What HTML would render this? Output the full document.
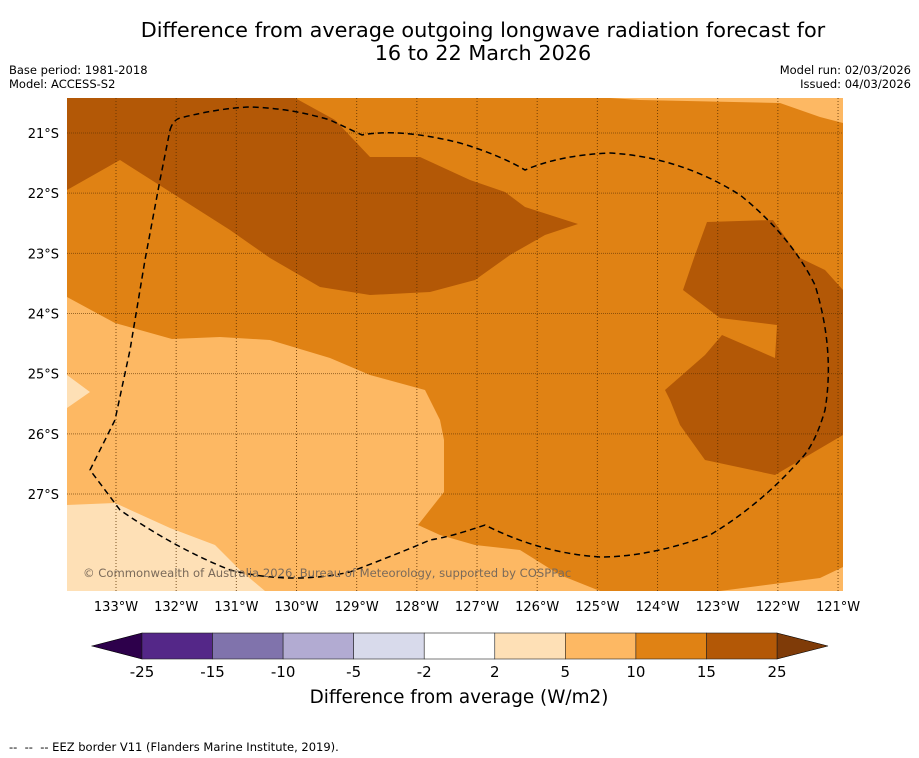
<!DOCTYPE html>
<html><head><meta charset="utf-8"><style>
body{margin:0;background:#fff;font-family:"DejaVu Sans","Liberation Sans",sans-serif;}
#wrap{position:relative;width:919px;height:758px;overflow:hidden;}
.t{position:absolute;white-space:nowrap;color:#000;}
</style></head><body>
<div id="wrap">
<div class="t" style="left:0;width:966px;top:19px;text-align:center;font-size:20.8px;line-height:23px;">Difference from average outgoing longwave radiation forecast for<br>16 to 22 March 2026</div>
<div class="t" style="left:9px;top:63px;font-size:11.5px;line-height:14px;">Base period: 1981-2018<br>Model: ACCESS-S2</div>
<div class="t" style="right:8px;top:63px;font-size:11.5px;line-height:14px;text-align:right;">Model run: 02/03/2026<br>Issued: 04/03/2026</div>
<svg id="svg" width="919" height="758" style="position:absolute;left:0;top:0"></svg>
<div class="t" style="left:9px;top:740px;font-size:11.5px;">--&nbsp; --&nbsp; -- EEZ border V11 (Flanders Marine Institute, 2019).</div>
</div>
<script>
const lonTicks=[133,132,131,130,129,128,127,126,125,124,123,122,121];
const latTicks=[21,22,23,24,25,26,27];
const levels=[-25,-15,-10,-5,-2,2,5,10,15,25];
const levelColors=["#542788","#8073ac","#b2abd2","#d8daeb","#ffffff","#fee0b6","#fdb863","#e08214","#b35806"];
const NS="http://www.w3.org/2000/svg";
const svg=document.getElementById('svg');
function el(t,a,p){const e=document.createElementNS(NS,t);for(const k in a)e.setAttribute(k,a[k]);(p||svg).appendChild(e);return e;}
const X=lon=>116+(133-lon)*60.17, Y=lat=>133+(lat-21)*60.17;
const L=67,R=843,T=98,B=591;
const clip=el('clipPath',{id:'mc'});el('rect',{x:L,y:T,width:R-L,height:B-T},clip);
const g=el('g',{'clip-path':'url(#mc)'});
let e=el('rect',{x:L,y:T,width:R-L,height:B-T,fill:'#e08214'},g);

const polys=[
["dark-anomaly-north","#b35806","67,98 295,98 335,120 370,157 420,157 470,180 505,192 525,207 578,224 545,235 510,255 475,280 430,292 370,295 320,287 270,258 230,230 175,195 120,160 67,190"],
["light-anomaly-ne","#fdb863","610,98 843,98 843,123 820,117 780,103 640,100"],
["dark-anomaly-east","#b35806","707,222 773,220 800,258 825,270 843,290 843,435 775,475 705,460 680,425 670,400 665,390 705,355 722,335 775,358 777,325 720,318 683,290 695,255"],
["light-anomaly-sw","#fdb863","67,297 115,323 172,339 220,337 270,340 330,358 370,375 425,390 440,420 444,440 444,492 418,525 440,535 475,545 520,550 560,575 600,591 67,591"],
["light-anomaly-se","#fdb863","720,591 820,578 843,567 843,591"],
["pale-anomaly-sw","#fee0b6","67,505 115,503 170,528 215,545 240,570 265,591 67,591"],
["pale-anomaly-w","#fee0b6","67,375 90,392 67,408"]];
polys.forEach(p=>{const q=el('polygon',{points:p[2],fill:p[1]},g);});
lonTicks.forEach(v=>{const l=el('line',{x1:X(v),x2:X(v),y1:T,y2:B,stroke:'#5a3000','stroke-width':1,'stroke-dasharray':'1,2','stroke-opacity':0.8},g);
const t=el('text',{x:X(v),y:611,'font-size':13,'text-anchor':'middle'});t.textContent=v+'°W';});
latTicks.forEach(v=>{const l=el('line',{x1:L,x2:R,y1:Y(v),y2:Y(v),stroke:'#5a3000','stroke-width':1,'stroke-dasharray':'1,1','stroke-opacity':0.6},g);
const t=el('text',{x:59,y:Y(v)+5,'font-size':13,'text-anchor':'end'});t.textContent=v+'°S';});
e=el('path',{d:'M170,130 Q173,120 180,118 Q220,108 250,107 Q290,108 330,120 L362,135 Q400,128 460,143 Q500,155 525,170 Q560,155 610,153 Q680,157 740,195 Q790,235 815,285 Q835,350 825,410 Q815,445 800,460 Q760,505 710,535 Q650,557 600,557 Q540,553 485,525 Q450,537 430,540 Q400,553 350,572 Q290,585 230,570 Q175,548 120,510 L90,470 L115,420 L130,350 L145,260 L160,180 Z',fill:'none',stroke:'#000','stroke-width':1.5,'stroke-dasharray':'6,4'},g);

e=el('text',{x:83,y:577,'font-size':11.6,fill:'#7a6a5a'},g);e.textContent='© Commonwealth of Australia 2026, Bureau of Meteorology, supported by COSPPac';

const cbL=142,cbR=777,cbT=633,cbB=659,n=levelColors.length,w=(cbR-cbL)/n;
e=el('polygon',{points:`${cbL},${cbT} 92,646 ${cbL},${cbB}`,fill:'#2d004b',stroke:'#000','stroke-width':0.6});
e=el('polygon',{points:`${cbR},${cbT} 828,646 ${cbR},${cbB}`,fill:'#7f3b08',stroke:'#000','stroke-width':0.6});
levelColors.forEach((c,i)=>{const r=el('rect',{x:cbL+i*w,y:cbT,width:w,height:cbB-cbT,fill:c,stroke:'#222','stroke-width':0.6});});
levels.forEach((v,i)=>{const t=el('text',{x:cbL+i*w,y:677,'font-size':15,'text-anchor':'middle'});t.textContent=v;});
e=el('text',{x:459,y:703,'font-size':18.4,'text-anchor':'middle'});e.textContent='Difference from average (W/m2)';

</script>
</body></html>
